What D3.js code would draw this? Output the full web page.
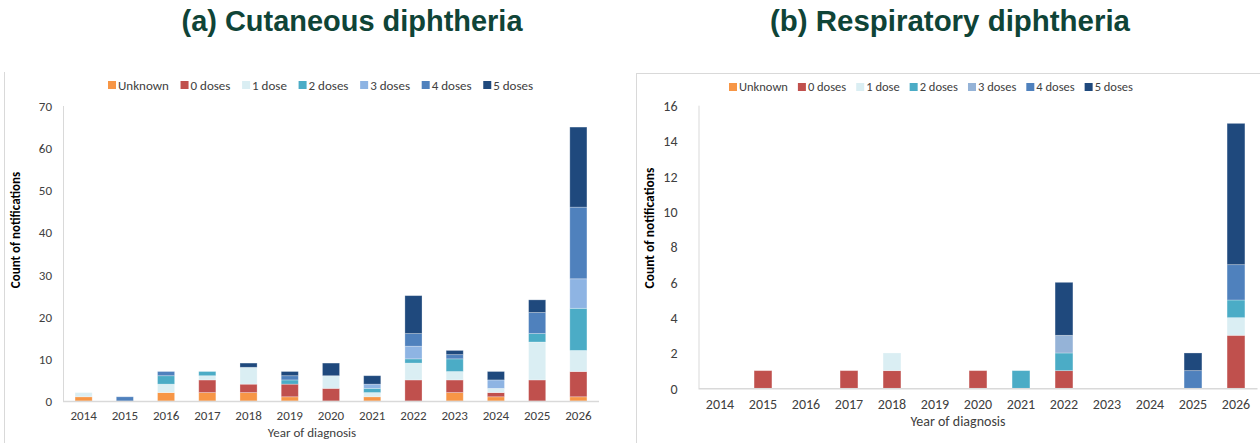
<!DOCTYPE html>
<html>
<head>
<meta charset="utf-8">
<script src="https://cdn.jsdelivr.net/npm/d3@7"></script>
<style>
  html, body { margin: 0; padding: 0; background: #fff; }
  svg { display: block; }
</style>
</head>
<body>
<svg id="chart" width="1260" height="443"></svg>
<script>
// ---------- DATA ----------
const years = ["2014","2015","2016","2017","2018","2019","2020","2021","2022","2023","2024","2025","2026"];
const seriesNames = ["Unknown","0 doses","1 dose","2 doses","3 doses","4 doses","5 doses"];
const seriesKeys = ["unknown","zero","one","two","three","four","five"];
const seriesColors = ["#F79646","#C0504D","#DAEEF3","#4BACC6","#8EB4E3","#4F81BD","#1F497D"];

// (a) Cutaneous diphtheria
const cutUnknown = [1,0,2,2,2,1,0,1,0,2,1,0,1];
const cutZero    = [0,0,0,3,2,3,3,0,5,3,1,5,6];
const cutOne     = [1,0,2,1,4,0,3,1,4,2,1,9,5];
const cutTwo     = [0,0,2,1,0,1,0,1,1,3,0,2,10];
const cutThree   = [0,0,0,0,0,0,0,1,3,0,2,0,7];
const cutFour    = [0,1,1,0,0,1,0,0,3,1,0,5,17];
const cutFive    = [0,0,0,0,1,1,3,2,9,1,2,3,19];
const cutTicks   = [0,10,20,30,40,50,60,70];

// (b) Respiratory diphtheria
const resUnknown = [0,0,0,0,0,0,0,0,0,0,0,0,0];
const resZero    = [0,1,0,1,1,0,1,0,1,0,0,0,3];
const resOne     = [0,0,0,0,1,0,0,0,0,0,0,0,1];
const resTwo     = [0,0,0,0,0,0,0,1,1,0,0,0,1];
const resThree   = [0,0,0,0,0,0,0,0,1,0,0,0,0];
const resFour    = [0,0,0,0,0,0,0,0,0,0,0,1,2];
const resFive    = [0,0,0,0,0,0,0,0,3,0,0,1,8];
const resTicks   = [0,2,4,6,8,10,12,14,16];

function buildRows(arrs) {
  return years.map((y, i) => {
    const r = { year: y };
    seriesKeys.forEach((k, j) => r[k] = arrs[j][i]);
    return r;
  });
}
const cutRows = buildRows([cutUnknown,cutZero,cutOne,cutTwo,cutThree,cutFour,cutFive]);
const resRows = buildRows([resUnknown,resZero,resOne,resTwo,resThree,resFour,resFive]);

// ---------- DRAW ----------
const svg = d3.select("#chart");
const FONT = "Carlito, Calibri, Lato, 'Open Sans', sans-serif";
const GRID = "#d9d9d9";
const TXT = "#404040";

// panel frames
svg.append("line").attr("x1",4.5).attr("x2",4.5).attr("y1",72).attr("y2",443).attr("stroke",GRID);
svg.append("line").attr("x1",636.5).attr("x2",636.5).attr("y1",73).attr("y2",443).attr("stroke",GRID);
svg.append("line").attr("x1",636.5).attr("x2",1260).attr("y1",73.5).attr("y2",73.5).attr("stroke",GRID);

function title(text, cx, width) {
  svg.append("text")
    .attr("x", cx).attr("y", 31)
    .attr("text-anchor","middle")
    .attr("font-family","'Liberation Sans Narrow','Arial Narrow','Liberation Sans',Arial,sans-serif")
    .attr("font-weight","bold")
    .attr("font-size",29)
    .attr("fill","#0f4437")
    .attr("textLength", width)
    .attr("lengthAdjust","spacingAndGlyphs")
    .text(text);
}
title("(a) Cutaneous diphtheria", 352, 341);
title("(b) Respiratory diphtheria", 950, 360);

function panel(cfg) {
  const g = svg.append("g");
  const x = d3.scaleBand().domain(years).range([cfg.x0, cfg.x1]).paddingInner(0.585).paddingOuter(0.2925);
  const y = d3.scaleLinear().domain([0, cfg.max]).range([cfg.yb, cfg.yt]);
  const stack = d3.stack().keys(seriesKeys)(cfg.rows);

  // axis lines
  g.append("line").attr("x1",cfg.x0+0.5).attr("x2",cfg.x0+0.5).attr("y1",cfg.yt).attr("y2",cfg.yb).attr("stroke",GRID);

  // bars
  stack.forEach((layer, li) => {
    g.append("g").attr("fill", cfg.colors[li])
      .selectAll("rect").data(layer.filter(d => d[1] - d[0] > 0)).join("rect")
      .attr("x", d => x(d.data.year))
      .attr("width", x.bandwidth())
      .attr("y", d => y(d[1]))
      .attr("height", d => y(d[0]) - y(d[1]))
      .attr("stroke", "rgba(255,255,255,0.35)")
      .attr("stroke-width", 0.8);
  });

  g.append("line").attr("x1",cfg.x0).attr("x2",cfg.x1).attr("y1",cfg.yb+0.5).attr("y2",cfg.yb+0.5).attr("stroke",GRID).attr("stroke-width",1.5);

  // y axis
  const ya = d3.axisLeft(y).tickValues(cfg.ticks).tickSize(0).tickPadding(cfg.yPad);
  const yg = g.append("g").attr("transform",`translate(${cfg.x0},0)`).call(ya);
  yg.select(".domain").remove();
  yg.selectAll("text").attr("font-family",FONT).attr("font-size",cfg.fs).attr("fill",TXT).attr("dy","0.35em");

  // x axis
  const xa = d3.axisBottom(x).tickSize(0).tickPadding(cfg.xPad);
  const xg = g.append("g").attr("transform",`translate(0,${cfg.yb})`).call(xa);
  xg.select(".domain").remove();
  xg.selectAll("text").attr("font-family",FONT).attr("font-size",cfg.fs).attr("fill",TXT);

  // axis titles
  g.append("text").attr("x",cfg.xtX).attr("y",cfg.xtY).attr("text-anchor","middle")
    .attr("font-family",FONT).attr("font-size",cfg.fs).attr("fill",TXT).text("Year of diagnosis");
  g.append("text").attr("transform",`translate(${cfg.ytX},${cfg.ytY}) rotate(-90)`).attr("text-anchor","middle")
    .attr("font-family",FONT).attr("font-size",cfg.ytFs).attr("font-weight","bold").attr("fill","#000")
    .text("Count of notifications");

  // legend
  let lx = cfg.legX;
  seriesNames.forEach((name, i) => {
    g.append("rect").attr("x",lx).attr("y",cfg.legY-4).attr("width",8).attr("height",8).attr("fill",cfg.colors[i]);
    const t = g.append("text").attr("x",lx+10).attr("y",cfg.legY).attr("dy","0.35em")
      .attr("font-family",FONT).attr("font-size",cfg.legFs).attr("fill",TXT).text(name);
    lx += 10 + t.node().getComputedTextLength() + cfg.legGap;
  });
}

panel({
  rows: cutRows, max: 70, ticks: cutTicks, colors: seriesColors,
  x0: 63, x1: 599, yb: 401, yt: 106, fs: 13, yPad: 11, xPad: 10,
  xtX: 312, xtY: 437, ytX: 20, ytY: 230, ytFs: 13,
  legX: 108, legY: 85, legGap: 11.7, legFs: 13
});
panel({
  rows: resRows, max: 16, ticks: resTicks,
  colors: ["#F79646","#C0504D","#DAEEF3","#4BACC6","#95B3D7","#4F81BD","#1F497D"],
  x0: 698.5, x1: 1257.5, yb: 388.3, yt: 105.7, fs: 14, yPad: 21, xPad: 11,
  xtX: 958, xtY: 426, ytX: 654, ytY: 228, ytFs: 13.5,
  legX: 729, legY: 87, legGap: 10, legFs: 12.5
});
</script>
</body>
</html>
